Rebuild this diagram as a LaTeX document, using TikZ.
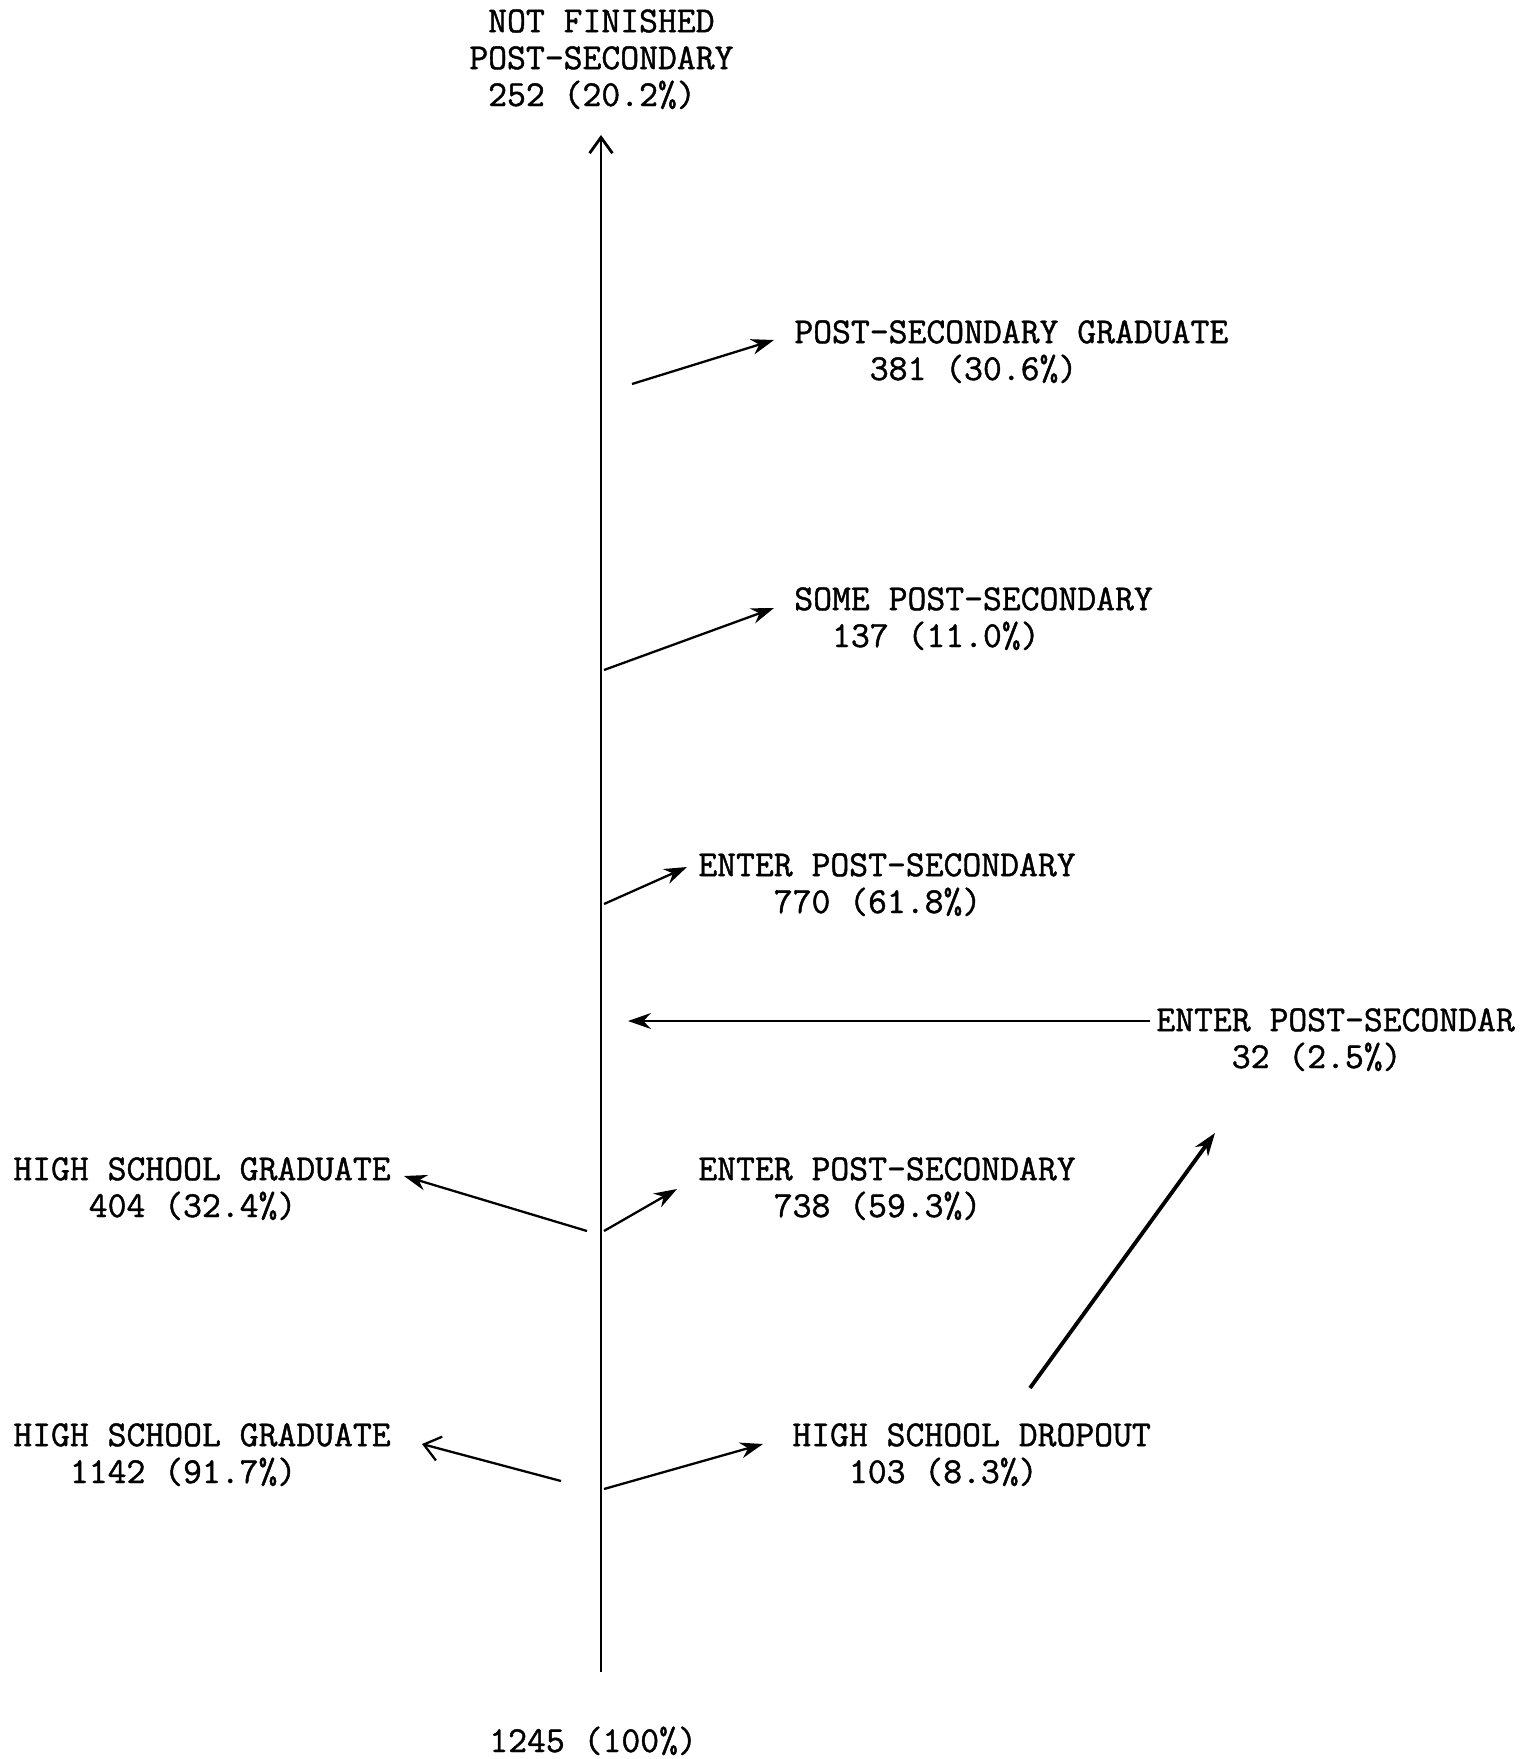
\documentclass[tikz,border=0pt]{standalone}
\usepackage{fontspec}
\newfontfamily\typer{Latin Modern Mono}[FakeBold=1.2]
\usetikzlibrary{arrows.meta}
\tikzset{
  lbl/.style={anchor=base west, inner sep=0pt, align=left,
    font=\typer\fontsize{20.85}{21}\selectfont},
  flow/.style={line width=1.3pt, -{Stealth[length=13pt, width=9pt]}}
}
\begin{document}
\begin{tikzpicture}[x=0.02cm, y=-0.02cm]
  \useasboundingbox (0,0) rectangle (1519,1759);

  % labels (base = baseline of the last line)
  \node[lbl] (nfps) at (469,106) {\phantom{0}NOT FINISHED\\POST-SECONDARY\\\phantom{0}252 (20.2\%)};
  \node[lbl] (psg) at (794,380) {POST-SECONDARY GRADUATE\\\phantom{0000}381 (30.6\%)};
  \node[lbl] (sps) at (794,647) {SOME POST-SECONDARY\\\phantom{00}137 (11.0\%)};
  \node[lbl] (epsa) at (698,913) {ENTER POST-SECONDARY\\\phantom{0000}770 (61.8\%)};
  \node[lbl] (epsb) at (1156,1068) {ENTER POST-SECONDAR\\\phantom{0000}32 (2.5\%)};
  \node[lbl] (hsga) at (13,1217) {HIGH SCHOOL GRADUATE\\\phantom{0000}404 (32.4\%)};
  \node[lbl] (epsc) at (698,1217) {ENTER POST-SECONDARY\\\phantom{0000}738 (59.3\%)};
  \node[lbl] (hsgb) at (13,1483) {HIGH SCHOOL GRADUATE\\\phantom{000}1142 (91.7\%)};
  \node[lbl] (hsd) at (792,1483) {HIGH SCHOOL DROPOUT\\\phantom{000}103 (8.3\%)};
  \node[lbl] (total) at (489,1752) {1245 (100\%)};

  % trunk
  \coordinate (base) at (601,1672);
  \coordinate (top) at (601,135);
  \draw[line width=1.4pt, -{Straight Barb[length=9pt, width=13pt, line width=1.6pt]}] (base) -- (top);

  % branch points and tips
  \coordinate (bpsg) at (632,384);   \coordinate (tpsg) at (774,340);
  \coordinate (bsps) at (604,670);   \coordinate (tsps) at (774,608);
  \coordinate (bepsa) at (604,904);  \coordinate (tepsa) at (687,867);
  \coordinate (bepsb) at (1150,1021); \coordinate (tepsb) at (628,1021);
  \coordinate (bhsga) at (587,1231); \coordinate (thsga) at (404,1176);
  \coordinate (bepsc) at (604,1231); \coordinate (tepsc) at (677,1189);
  \coordinate (bdrop) at (1030,1388); \coordinate (tdrop) at (1215,1133);
  \coordinate (bhsgb) at (561,1481); \coordinate (thsgb) at (422,1444);
  \coordinate (bhsd) at (604,1489);  \coordinate (thsd) at (763,1444);

  \draw[flow] (bpsg) -- (tpsg);
  \draw[flow] (bsps) -- (tsps);
  \draw[flow] (bepsa) -- (tepsa);
  \draw[flow] (bepsb) -- (tepsb);
  \draw[flow] (bhsga) -- (thsga);
  \draw[flow] (bepsc) -- (tepsc);
  \draw[flow, line width=2.2pt] (bdrop) -- (tdrop);
  \draw[line width=1.3pt, -{Straight Barb[length=9pt, width=14pt]}] (bhsgb) -- (thsgb);
  \draw[flow] (bhsd) -- (thsd);
\end{tikzpicture}
\end{document}
